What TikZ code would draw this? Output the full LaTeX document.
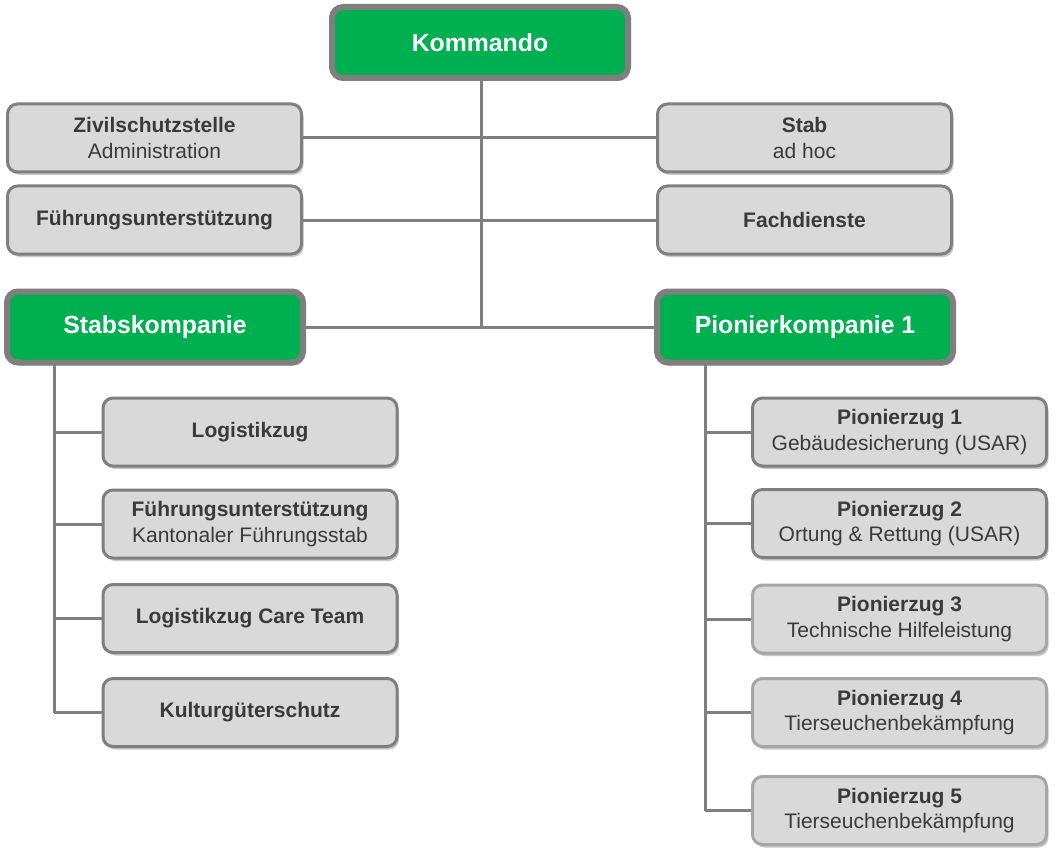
\documentclass[tikz,border=0pt]{standalone}
\usepackage{fontspec}
\setmainfont{Liberation Sans}
\usetikzlibrary{shadows}
\definecolor{zgreen}{HTML}{00B050}
\definecolor{zgrayfill}{HTML}{D9D9D9}
\definecolor{zborder}{HTML}{7F7F7F}
\definecolor{zlight}{HTML}{A6A6A6}
\definecolor{ztext}{HTML}{3A3A3A}
\tikzset{
  box/.style={draw=zborder, line width=3pt, rounded corners=10pt, fill=zgrayfill,
    text=ztext, align=center, inner sep=0pt,
    font=\fontsize{21}{25.5}\selectfont,
    minimum width=294pt, minimum height=68pt,
    drop shadow={shadow xshift=2pt, shadow yshift=-3pt, opacity=0.3, fill=black!70}},
  lightbox/.style={box, draw=zlight},
  headbox/.style={draw=zborder, line width=6pt, rounded corners=11pt, fill=zgreen,
    text=white, align=center, inner sep=0pt,
    font=\fontsize{24.8}{28}\selectfont\bfseries,
    minimum width=296pt, minimum height=71pt,
    drop shadow={shadow xshift=2pt, shadow yshift=-3pt, opacity=0.3, fill=black!70}},
  conn/.style={draw=zborder, line width=3pt}
}
\begin{document}
\begin{tikzpicture}[x=1pt, y=-1pt]
\useasboundingbox[fill=white] (0,0) rectangle (1062,861);

\coordinate (cmid) at (481,327);
\coordinate (ltop) at (54,362);
\coordinate (rtop) at (705,362);

\node[headbox] (kom) at (480,42.5) {Kommando};
\node[box] (ziv) at (154.5,138) {\textbf{Zivilschutzstelle}\\Administration};
\node[box] (stab) at (804.5,138) {\textbf{Stab}\\ad hoc};
\node[box] (fu) at (154.5,220) {\textbf{Führungsunterstützung}};
\node[box] (fach) at (804.5,220) {\textbf{Fachdienste}};
\node[headbox] (skp) at (155,327) {Stabskompanie};
\node[headbox] (pkp) at (805,327) {Pionierkompanie 1};

\node[box] (log) at (250,432) {\textbf{Logistikzug}};
\node[box] (fuk) at (250,524) {\textbf{Führungsunterstützung}\\Kantonaler Führungsstab};
\node[box] (lct) at (250,618.5) {\textbf{Logistikzug Care Team}};
\node[box] (kgs) at (250,712.5) {\textbf{Kulturgüterschutz}};

\node[box] (pz1) at (899.5,432) {\textbf{Pionierzug 1}\\Gebäudesicherung (USAR)};
\node[box] (pz2) at (899.5,523.5) {\textbf{Pionierzug 2}\\Ortung \& Rettung (USAR)};
\node[lightbox] (pz3) at (899.5,619) {\textbf{Pionierzug 3}\\Technische Hilfeleistung};
\node[lightbox] (pz4) at (899.5,712.5) {\textbf{Pionierzug 4}\\Tierseuchenbekämpfung};
\node[lightbox] (pz5) at (899.5,810.5) {\textbf{Pionierzug 5}\\Tierseuchenbekämpfung};

\draw[conn] (kom.south -| cmid) -- (cmid);
\draw[conn] (ziv.east) -- (stab.west);
\draw[conn] (fu.east) -- (fach.west);
\draw[conn] (skp.east) -- (pkp.west);

\draw[conn] (ltop) -- (ltop |- kgs.west);
\draw[conn] (log.west) -- (log.west -| ltop);
\draw[conn] (fuk.west) -- (fuk.west -| ltop);
\draw[conn] (lct.west) -- (lct.west -| ltop);
\draw[conn] (kgs.west) -- (kgs.west -| ltop);

\draw[conn] (rtop) -- (rtop |- pz5.west);
\draw[conn] (pz1.west) -- (pz1.west -| rtop);
\draw[conn] (pz2.west) -- (pz2.west -| rtop);
\draw[conn] (pz3.west) -- (pz3.west -| rtop);
\draw[conn] (pz4.west) -- (pz4.west -| rtop);
\draw[conn] (pz5.west) -- (pz5.west -| rtop);
\end{tikzpicture}
\end{document}
